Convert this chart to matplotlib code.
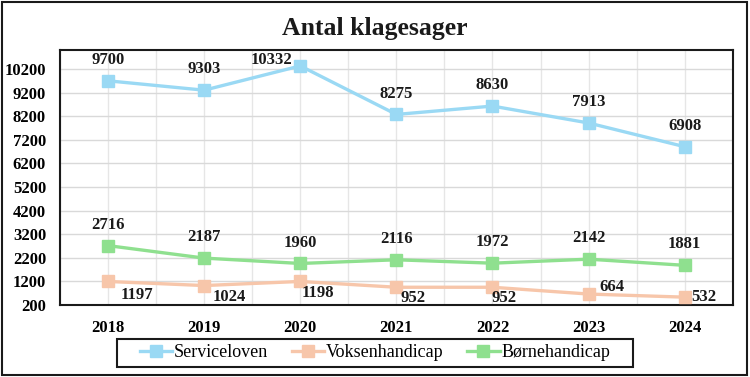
import matplotlib
matplotlib.use("Agg")
import matplotlib.pyplot as plt
from matplotlib.patches import Rectangle

years = ["2018", "2019", "2020", "2021", "2022", "2023", "2024"]
serviceloven = [9700, 9303, 10332, 8275, 8630, 7913, 6908]
voksenhandicap = [1197, 1024, 1198, 952, 952, 664, 532]
boernehandicap = [2716, 2187, 1960, 2116, 1972, 2142, 1881]
series_names = ["Serviceloven", "Voksenhandicap", "Børnehandicap"]
yticks = list(range(200, 10201, 1000))

plt.rcParams['font.family'] = ['Liberation Serif', 'DejaVu Serif']

fig = plt.figure(figsize=(7.5, 3.77), dpi=100)
ax = fig.add_axes([0.08, 0.191, 0.897, 0.676])

colors = ["#9ad9f4", "#f7c6aa", "#8fe08f"]
x = list(range(len(years)))
all_series = [serviceloven, voksenhandicap, boernehandicap]
for vals, c, name in zip(all_series, colors, series_names):
    ax.plot(x, vals, color=c, lw=2.4, marker="s", ms=8, mec=c, mfc=c,
            label=name, zorder=3)

# label offsets in points
offs_s = [(0, 15), (0, 15), (-21, 4), (0, 15), (0, 15), (0, 15), (0, 15)]
offs_v = [(21, -10), (18, -8), (13, -8), (12, -8), (8, -8), (17, 5), (14, 0)]
offs_b = [(0, 15), (0, 15), (0, 15), (0, 15), (0, 15), (0, 15), (0, 15)]
for vals, offs in zip(all_series, [offs_s, offs_v, offs_b]):
    for xi, v, o in zip(x, vals, offs):
        ax.annotate(str(v), (xi, v), xytext=o, textcoords="offset points",
                    ha="center", va="center", fontsize=12, fontweight="bold",
                    color="#1a1a1a")

ax.set_xlim(-0.5, 6.5)
ax.set_ylim(200, 11000)
ax.set_yticks(yticks)
ax.set_xticks(x)
ax.set_xticklabels(years)
ax.set_xticks([i + 0.5 for i in range(-1, 7)], minor=True)
ax.grid(True, which="both", axis="x", color="#e6e6e6", lw=1)
ax.grid(True, which="major", axis="y", color="#d9d9d9", lw=1)
ax.set_axisbelow(True)
ax.tick_params(axis="both", which="both", length=0, labelsize=12)
ax.tick_params(axis="x", pad=11)
ax.tick_params(axis="y", pad=10)
for lab in ax.get_xticklabels() + ax.get_yticklabels():
    lab.set_fontweight("bold")
for sp in ax.spines.values():
    sp.set_color("#1a1a1a")
    sp.set_linewidth(1.5)

fig.text(0.5, 0.925, "Antal klagesager", ha="center", va="center",
         fontsize=18.5, fontweight="bold", color="#1a1a1a")

leg = fig.legend(loc="center", bbox_to_anchor=(0.5, 0.0637), ncol=3,
                 frameon=False, fontsize=13, handlelength=1.8,
                 handletextpad=0.1, columnspacing=1.3, borderpad=0.3,
                 borderaxespad=0)

fig.patches.append(Rectangle((0.156, 0.0265), 0.688, 0.0743, transform=fig.transFigure,
                             fill=False, ec="#1a1a1a", lw=1.5))
fig.patches.append(Rectangle((0.002, 0.006), 0.994, 0.99, transform=fig.transFigure,
                             fill=False, ec="#1a1a1a", lw=1.5))

fig.savefig("out.png", dpi=100)
